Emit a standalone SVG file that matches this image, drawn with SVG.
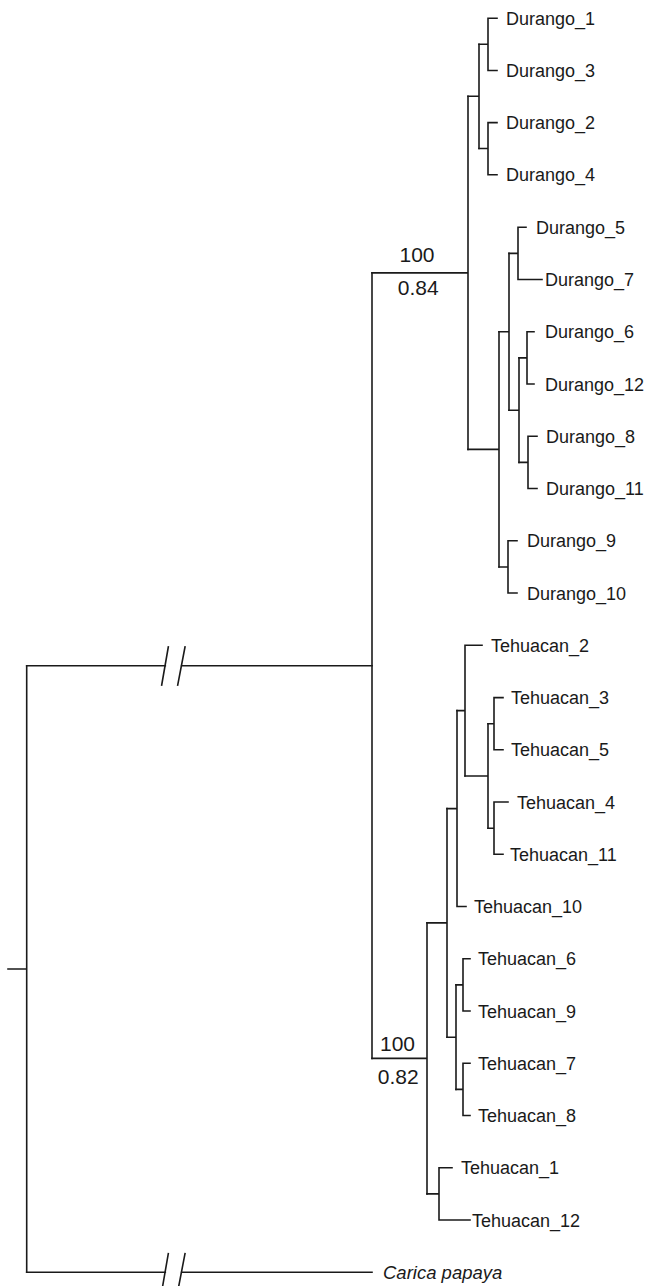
<svg xmlns="http://www.w3.org/2000/svg" width="646" height="1286" viewBox="0 0 646 1286">
<style>
.br{fill:none;stroke:#1a1a1a;stroke-width:1.6;stroke-linecap:square}
.tx{font-family:"Liberation Sans",Arial,sans-serif;font-size:18px;fill:#1a1a1a}
.lb{font-family:"Liberation Sans",Arial,sans-serif;font-size:21px;fill:#1a1a1a;text-anchor:middle}
.it{font-style:italic;font-size:18.5px}
</style>
<rect width="646" height="1286" fill="#fff"/>
<g id="connectors" class="br">
<path d="M8,969 H26.7 M26.7,665.7 V1272.3"/>
<path d="M26.7,665.7 H165.3 M181.7,665.7 H372"/>
<path d="M168.3,647 L161.7,685 M185,647 L177.7,685"/>
<path d="M26.7,1272.3 H165.3 M181.7,1272.3 H372"/>
<path d="M168.3,1253.6 L161.7,1291.6 M185,1253.6 L177.7,1291.6"/>
<path d="M372,272.9 V1058.4"/>
<path d="M372,272.9 H468 M468,96.3 V449.4"/>
<path d="M468,96.3 H479 M479,44.2 V148.5"/>
<path d="M479,44.2 H488 M488,18.3 V70.5 M488,18.3 H497 M488,70.5 H497"/>
<path d="M479,148.5 H488 M488,122.6 V174.8 M488,122.6 H497 M488,174.8 H497"/>
<path d="M468,449.4 H499 M499,331.8 V567"/>
<path d="M499,331.8 H509 M509,253.4 V410.2"/>
<path d="M509,253.4 H518 M518,227.3 V279.5 M518,227.3 H526 M518,279.5 H542"/>
<path d="M509,410.2 H519 M519,357.9 V462.4"/>
<path d="M519,357.9 H527 M527,331.8 V384 M527,331.8 H534 M527,384 H534"/>
<path d="M519,462.4 H528 M528,436.3 V488.5 M528,436.3 H537 M528,488.5 H537"/>
<path d="M499,567 H508 M508,540.8 V593 M508,540.8 H517 M508,593 H517"/>
<path d="M372,1058.4 H427 M427,922.9 V1193.9"/>
<path d="M427,922.9 H447 M447,808.6 V1037.2"/>
<path d="M447,808.6 H457 M457,710.6 V906.5 M457,906.5 H466"/>
<path d="M457,710.6 H465 M465,645.3 V776 M465,645.3 H482"/>
<path d="M465,776 H488 M488,723.7 V828.2"/>
<path d="M488,723.7 H494 M494,697.6 V749.8 M494,697.6 H503 M494,749.8 H503"/>
<path d="M488,828.2 H494 M494,802 V854.3 M494,802 H508 M494,854.3 H503"/>
<path d="M447,1037.2 H456 M456,984.9 V1089.4"/>
<path d="M456,984.9 H463 M463,958.8 V1011 M463,958.8 H470 M463,1011 H470"/>
<path d="M456,1089.4 H463 M463,1063.3 V1115.5 M463,1063.3 H470 M463,1115.5 H470"/>
<path d="M427,1193.9 H439 M439,1167.8 V1220 M439,1167.8 H452 M439,1220 H470"/>
</g>
<g id="support-durango">
<text class="lb" x="417" y="262.3">100</text>
<text class="lb" x="418.3" y="295">0.84</text>
</g>
<g id="support-tehuacan">
<text class="lb" x="397.5" y="1050.5">100</text>
<text class="lb" x="398.3" y="1084.3">0.82</text>
</g>
<g id="durango-tips" class="tx">
<g id="Durango_1"><text x="506" y="24.8">Durango_1</text></g>
<g id="Durango_3"><text x="506" y="77">Durango_3</text></g>
<g id="Durango_2"><text x="506" y="129.1">Durango_2</text></g>
<g id="Durango_4"><text x="506" y="181.3">Durango_4</text></g>
<g id="Durango_5"><text x="536" y="233.8">Durango_5</text></g>
<g id="Durango_7"><text x="545" y="286">Durango_7</text></g>
<g id="Durango_6"><text x="545" y="338.3">Durango_6</text></g>
<g id="Durango_12"><text x="545" y="390.5">Durango_12</text></g>
<g id="Durango_8"><text x="546" y="442.8">Durango_8</text></g>
<g id="Durango_11"><text x="546" y="495">Durango_11</text></g>
<g id="Durango_9"><text x="527" y="547.3">Durango_9</text></g>
<g id="Durango_10"><text x="527" y="599.5">Durango_10</text></g>
</g>
<g id="tehuacan-tips" class="tx">
<g id="Tehuacan_2"><text x="491" y="651.8">Tehuacan_2</text></g>
<g id="Tehuacan_3"><text x="511" y="704.1">Tehuacan_3</text></g>
<g id="Tehuacan_5"><text x="511" y="756.3">Tehuacan_5</text></g>
<g id="Tehuacan_4"><text x="517" y="808.5">Tehuacan_4</text></g>
<g id="Tehuacan_11"><text x="510" y="860.8">Tehuacan_11</text></g>
<g id="Tehuacan_10"><text x="474" y="913">Tehuacan_10</text></g>
<g id="Tehuacan_6"><text x="478" y="965.3">Tehuacan_6</text></g>
<g id="Tehuacan_9"><text x="478" y="1017.5">Tehuacan_9</text></g>
<g id="Tehuacan_7"><text x="478" y="1069.8">Tehuacan_7</text></g>
<g id="Tehuacan_8"><text x="478" y="1122">Tehuacan_8</text></g>
<g id="Tehuacan_1"><text x="461" y="1174.3">Tehuacan_1</text></g>
<g id="Tehuacan_12"><text x="472" y="1226.5">Tehuacan_12</text></g>
</g>
<g id="Carica_papaya" class="tx it"><text x="383" y="1279">Carica papaya</text></g>
</svg>
